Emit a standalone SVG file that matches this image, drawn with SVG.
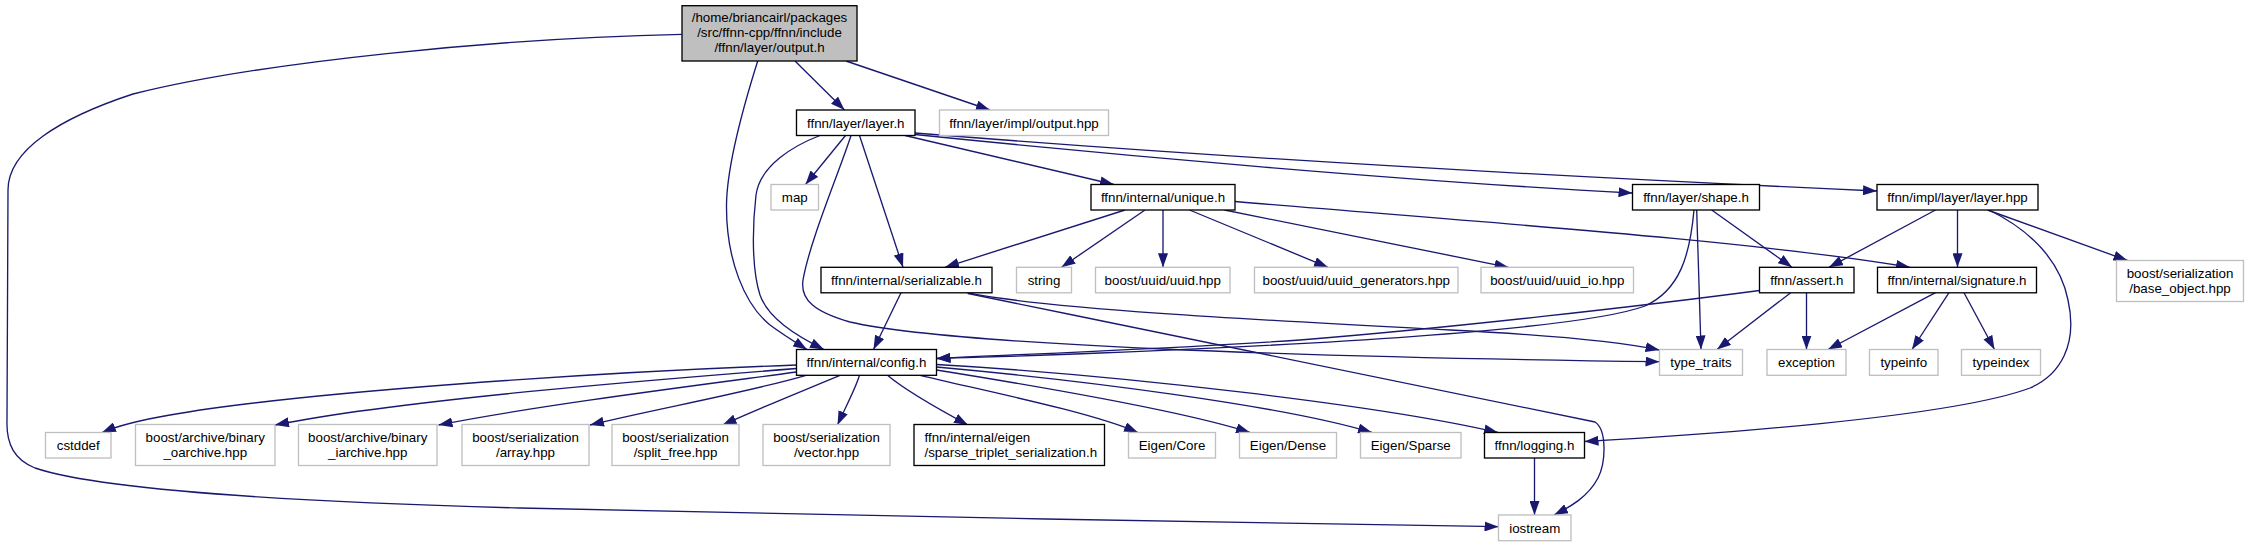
<svg xmlns="http://www.w3.org/2000/svg" width="2248" height="547" viewBox="0 0 2248 547">
<style>
.doc{fill:#fff;stroke:#000;stroke-width:1.33}
.ext{fill:#fff;stroke:#bfbfbf;stroke-width:1.33}
.root{fill:#bfbfbf;stroke:#000;stroke-width:1.33}
text{font-family:"Liberation Sans",Arial,Helvetica,sans-serif;font-size:13.33px;fill:#000;text-anchor:middle}
text.l{text-anchor:start}
.e{fill:none;stroke:#191970;stroke-width:1.33;marker-end:url(#ah)}
</style>
<defs>
<marker id="ah" viewBox="0 0 14 10" refX="14" refY="5" markerWidth="14" markerHeight="10" orient="auto" markerUnits="userSpaceOnUse">
<path d="M0,0 L14,5 L0,10 z" fill="#191970"/>
</marker>
</defs>
<rect width="2248" height="547" fill="#fff"/>
<g id="edges">
<path class="e" d="M795,61 L844.5,110"/>
<path class="e" d="M846,61 L990,110"/>
<path class="e" d="M757.7,61 C747,95 727,160 726.5,205 C726,260 745,305 770,325 C785,336 795,342 807,349.5"/>
<path class="e" d="M681.7,34.3 C500,38 260,62 133,94 C60,118 8,150 8,190 L7,420 C6,445 15,460 35,468 C100,490 300,502 520,508 C800,515 1200,522 1498.5,526.7"/>
<path class="e" d="M845.5,135.5 L805.5,184.5"/>
<path class="e" d="M820,135.5 C795,145 760,165 756,195 C752,230 752,270 760,295 C768,318 795,335 824,349.5"/>
<path class="e" d="M859.5,135.5 L903,267.3"/>
<path class="e" d="M851,135.5 C840,170 810,240 803,280 C800,300 815,312 850,322 C950,345 1300,357 1659.5,361.7"/>
<path class="e" d="M905,135.5 L1114,184.5"/>
<path class="e" d="M915,134.5 C1100,153.5 1400,181 1632.5,193"/>
<path class="e" d="M915,133 C1150,152 1500,174 1877,191"/>
<path class="e" d="M1125,210 L945,267.3"/>
<path class="e" d="M1145,210 L1061.5,267.3"/>
<path class="e" d="M1163,210 L1163,267.3"/>
<path class="e" d="M1189.5,210 L1328,267.3"/>
<path class="e" d="M1224.5,210 L1508.5,267.3"/>
<path class="e" d="M1235,201.5 C1450,220 1750,240 1910,267.3"/>
<path class="e" d="M1711.7,210 L1792,267.3"/>
<path class="e" d="M1696.7,210 L1701,349.5"/>
<path class="e" d="M1694,210 C1690,255 1680,290 1645,306 C1580,330 1300,345 1100,353 C1030,356 980,357 936.5,358.5"/>
<path class="e" d="M1935.5,210 L1829,267.3"/>
<path class="e" d="M1957.5,210 L1957.5,267.3"/>
<path class="e" d="M1987.5,210 L2127.5,260.5"/>
<path class="e" d="M1989,210 C2030,230 2060,260 2068,300 C2078,345 2060,375 2030,388 C1950,418 1700,435 1584.5,441.5"/>
<path class="e" d="M901,292.7 L873.5,349.5"/>
<path class="e" d="M966.7,292.7 C1050,310 1300,322 1450,330 C1550,335 1620,342 1659.5,350"/>
<path class="e" d="M968,293.5 C1200,341 1450,392 1595,422 C1607,430 1606,462 1598,478 C1588,497 1570,507 1554,515"/>
<path class="e" d="M1759.5,290.5 C1650,305 1450,328 1300,340 C1150,350 1000,355 936.5,358.5"/>
<path class="e" d="M1790.7,292.7 L1717,349.5"/>
<path class="e" d="M1806.5,292.7 L1806.5,349.5"/>
<path class="e" d="M1935.5,292.7 L1828,349.5"/>
<path class="e" d="M1949,292.7 L1912,349.5"/>
<path class="e" d="M1964,292.7 L1994.5,349.5"/>
<path class="e" d="M796.5,365 C600,372 300,392 170,415 C135,421 115,427 102,432.5"/>
<path class="e" d="M796.5,368.5 C650,380 400,400 275,425"/>
<path class="e" d="M796.5,372 C700,385 540,405 438.5,425"/>
<path class="e" d="M806,375.3 C750,392 650,410 590,425"/>
<path class="e" d="M840,375.3 C800,392 760,408 722.5,425"/>
<path class="e" d="M859.5,375.3 C855,390 845,408 837.5,425"/>
<path class="e" d="M887.5,375.3 C905,390 940,410 968,425"/>
<path class="e" d="M920,375.3 C990,392 1090,412 1138,432.5"/>
<path class="e" d="M936.5,370 C1030,385 1180,410 1250,432.5"/>
<path class="e" d="M936.5,367 C1080,380 1280,405 1372,432.5"/>
<path class="e" d="M936.5,364.5 C1120,375 1380,405 1498,432.5"/>
<path class="e" d="M1534.5,458 L1534.5,515"/>
</g>
<g id="n_root"><rect class="root" x="682" y="5.7" width="175" height="55.3"/><text x="769.5" y="22.3">/home/briancairl/packages</text><text x="769.5" y="37">/src/ffnn-cpp/ffnn/include</text><text x="769.5" y="51.7">/ffnn/layer/output.h</text></g>
<g id="n_layer_h"><rect class="doc" x="796.5" y="110" width="118.5" height="25.5"/><text x="855.75" y="127.5">ffnn/layer/layer.h</text></g>
<g id="n_output_hpp"><rect class="ext" x="939.5" y="110" width="169" height="25.5"/><text x="1024" y="127.5">ffnn/layer/impl/output.hpp</text></g>
<g id="n_map"><rect class="ext" x="771" y="184.5" width="47.5" height="25.5"/><text x="794.75" y="202">map</text></g>
<g id="n_unique"><rect class="doc" x="1091" y="184.5" width="144" height="25.5"/><text x="1163" y="202">ffnn/internal/unique.h</text></g>
<g id="n_shape"><rect class="doc" x="1632.5" y="184.5" width="127" height="25.5"/><text x="1696" y="202">ffnn/layer/shape.h</text></g>
<g id="n_impl_layer"><rect class="doc" x="1877" y="184.5" width="161" height="25.5"/><text x="1957.5" y="202">ffnn/impl/layer/layer.hpp</text></g>
<g id="n_serializable"><rect class="doc" x="821" y="267.3" width="171" height="25.5"/><text x="906.5" y="284.8">ffnn/internal/serializable.h</text></g>
<g id="n_string"><rect class="ext" x="1016.5" y="267.3" width="55" height="25.5"/><text x="1044" y="284.8">string</text></g>
<g id="n_uuid"><rect class="ext" x="1095.5" y="267.3" width="134.5" height="25.5"/><text x="1162.75" y="284.8">boost/uuid/uuid.hpp</text></g>
<g id="n_uuid_gen"><rect class="ext" x="1254.5" y="267.3" width="203.5" height="25.5"/><text x="1356.25" y="284.8">boost/uuid/uuid_generators.hpp</text></g>
<g id="n_uuid_io"><rect class="ext" x="1481" y="267.3" width="152.5" height="25.5"/><text x="1557.25" y="284.8">boost/uuid/uuid_io.hpp</text></g>
<g id="n_assert"><rect class="doc" x="1759.5" y="267.3" width="94.5" height="25.5"/><text x="1806.75" y="284.8">ffnn/assert.h</text></g>
<g id="n_signature"><rect class="doc" x="1877.5" y="267.3" width="159" height="25.5"/><text x="1957" y="284.8">ffnn/internal/signature.h</text></g>
<g id="n_base_object"><rect class="ext" x="2116.5" y="260.5" width="127" height="41"/><text x="2180" y="278">boost/serialization</text><text x="2180" y="292.5">/base_object.hpp</text></g>
<g id="n_config"><rect class="doc" x="796.5" y="349.5" width="140" height="25.8"/><text x="866.5" y="367">ffnn/internal/config.h</text></g>
<g id="n_type_traits"><rect class="ext" x="1659.5" y="349.5" width="83" height="25.8"/><text x="1701" y="367">type_traits</text></g>
<g id="n_exception"><rect class="ext" x="1767" y="349.5" width="79" height="25.8"/><text x="1806.5" y="367">exception</text></g>
<g id="n_typeinfo"><rect class="ext" x="1869.5" y="349.5" width="68.5" height="25.8"/><text x="1903.75" y="367">typeinfo</text></g>
<g id="n_typeindex"><rect class="ext" x="1961.5" y="349.5" width="79" height="25.8"/><text x="2001" y="367">typeindex</text></g>
<g id="n_cstddef"><rect class="ext" x="45.5" y="432.5" width="65.5" height="25.5"/><text x="78.25" y="450">cstddef</text></g>
<g id="n_oarchive"><rect class="ext" x="135.5" y="424.5" width="139.5" height="41"/><text x="205.25" y="442">boost/archive/binary</text><text x="205.25" y="456.5">_oarchive.hpp</text></g>
<g id="n_iarchive"><rect class="ext" x="298.5" y="424.5" width="138.5" height="41"/><text x="367.75" y="442">boost/archive/binary</text><text x="367.75" y="456.5">_iarchive.hpp</text></g>
<g id="n_array"><rect class="ext" x="462" y="424.5" width="127" height="41"/><text x="525.5" y="442">boost/serialization</text><text x="525.5" y="456.5">/array.hpp</text></g>
<g id="n_split_free"><rect class="ext" x="612" y="424.5" width="127" height="41"/><text x="675.5" y="442">boost/serialization</text><text x="675.5" y="456.5">/split_free.hpp</text></g>
<g id="n_vector"><rect class="ext" x="763" y="424.5" width="127" height="41"/><text x="826.5" y="442">boost/serialization</text><text x="826.5" y="456.5">/vector.hpp</text></g>
<g id="n_sparse"><rect class="doc" x="914" y="424.5" width="190.5" height="41"/><text class="l" x="924.5" y="442">ffnn/internal/eigen</text><text class="l" x="924.5" y="456.5">/sparse_triplet_serialization.h</text></g>
<g id="n_eigen_core"><rect class="ext" x="1128.5" y="432.5" width="87" height="25.5"/><text x="1172" y="450">Eigen/Core</text></g>
<g id="n_eigen_dense"><rect class="ext" x="1239.5" y="432.5" width="97" height="25.5"/><text x="1288" y="450">Eigen/Dense</text></g>
<g id="n_eigen_sparse"><rect class="ext" x="1360.5" y="432.5" width="100.5" height="25.5"/><text x="1410.75" y="450">Eigen/Sparse</text></g>
<g id="n_logging"><rect class="doc" x="1484.5" y="432.5" width="100" height="25.5"/><text x="1534.5" y="450">ffnn/logging.h</text></g>
<g id="n_iostream"><rect class="ext" x="1498.5" y="515" width="72.5" height="25.7"/><text x="1534.75" y="532.5">iostream</text></g>
</svg>
